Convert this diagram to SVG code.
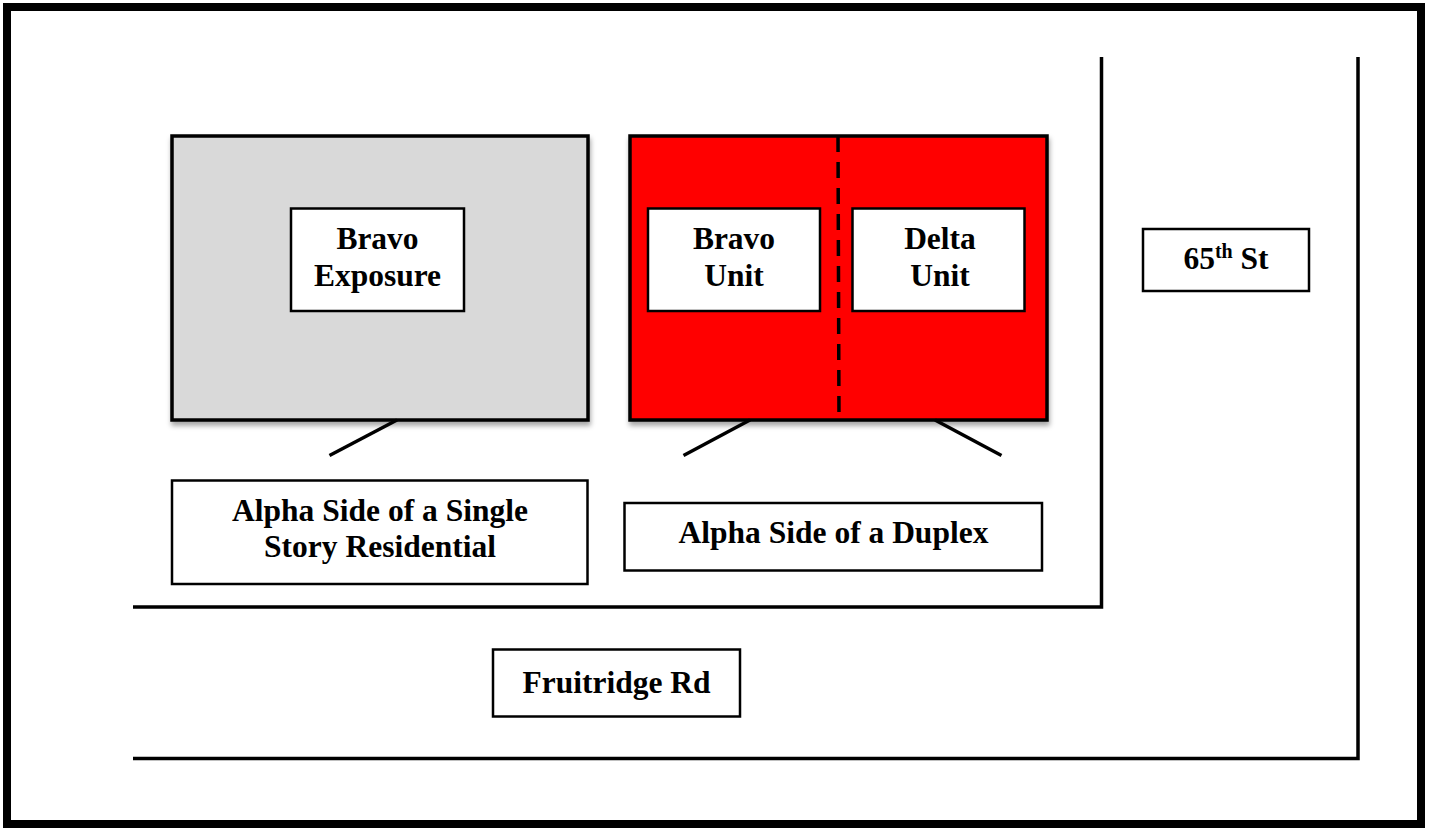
<svg xmlns="http://www.w3.org/2000/svg" width="1432" height="828" viewBox="0 0 1432 828">
<style>
  .t { font-family: "Liberation Serif", "Times New Roman", serif; font-weight: bold; font-size: 31.5px; fill: #000; text-anchor: middle; }
  .box { fill: #fff; stroke: #000; stroke-width: 2.5; }
  .line { stroke: #000; stroke-width: 3.5; fill: none; }
</style>
<defs>
  <filter id="shadow" x="-5%" y="-5%" width="112%" height="115%">
    <feDropShadow dx="1" dy="4" stdDeviation="2.5" flood-color="#000" flood-opacity="0.35"/>
  </filter>
</defs>
<rect x="0" y="0" width="1432" height="828" fill="#fff"/>
<g id="frame">
  <rect x="7" y="7" width="1414" height="817" fill="none" stroke="#000" stroke-width="8"/>
</g>
<g id="streets">
  <polyline class="line" points="1101.5,57 1101.5,607 133,607"/>
  <polyline class="line" points="1358,57 1358,758.5 133,758.5"/>
</g>
<g id="single-story">
  <rect x="172" y="136" width="416" height="284" fill="#d9d9d9" stroke="#000" stroke-width="3.5" filter="url(#shadow)"/>
</g>
<g id="duplex">
  <rect x="630" y="136" width="417" height="284" fill="#ff0000" stroke="#000" stroke-width="3.5" filter="url(#shadow)"/>
  <line x1="838" y1="136" x2="839" y2="420" stroke="#000" stroke-width="3.5" stroke-dasharray="16 10"/>
</g>
<g id="bravo-exposure">
  <rect class="box" x="291" y="208.5" width="173" height="102.5"/>
  <text class="t" x="377.5" y="249">Bravo</text>
  <text class="t" x="377.5" y="286">Exposure</text>
</g>
<g id="bravo-unit">
  <rect class="box" x="648" y="208.5" width="172" height="102.5"/>
  <text class="t" x="734" y="249">Bravo</text>
  <text class="t" x="734" y="286">Unit</text>
</g>
<g id="delta-unit">
  <rect class="box" x="852.5" y="208.5" width="172" height="102.5"/>
  <text class="t" x="940" y="249">Delta</text>
  <text class="t" x="940" y="286">Unit</text>
</g>
<g id="label-single">
  <rect class="box" x="172" y="480.5" width="415.5" height="103.5"/>
  <text class="t" x="380" y="520.5">Alpha Side of a Single</text>
  <text class="t" x="380" y="557">Story Residential</text>
</g>
<g id="label-duplex">
  <rect class="box" x="624.5" y="503" width="417.5" height="67.5"/>
  <text class="t" x="833.5" y="543">Alpha Side of a Duplex</text>
</g>
<g id="fruitridge">
  <rect class="box" x="493" y="649.5" width="247" height="67"/>
  <text class="t" x="616.5" y="692.5">Fruitridge Rd</text>
</g>
<g id="st65">
  <rect class="box" x="1143" y="229" width="166" height="62"/>
  <text class="t" x="1226" y="269">65<tspan font-size="20" dy="-11">th</tspan><tspan dy="11"> St</tspan></text>
</g>
<g id="connectors">
  <line class="line" x1="397" y1="420" x2="329.5" y2="455.5" stroke-width="3"/>
  <line class="line" x1="750" y1="420" x2="683.5" y2="455.5" stroke-width="3"/>
  <line class="line" x1="935" y1="420" x2="1001.5" y2="455.5" stroke-width="3"/>
</g>
</svg>
